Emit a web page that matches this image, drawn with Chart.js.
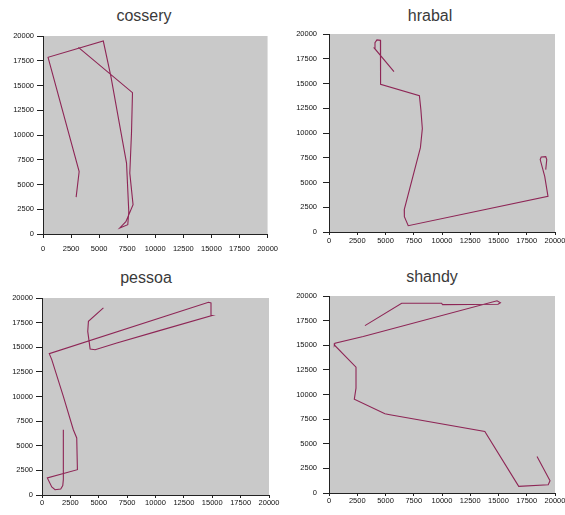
<!DOCTYPE html>
<html>
<head>
<meta charset="utf-8">
<script src="https://cdn.jsdelivr.net/npm/chart.js@4.4.1/dist/chart.umd.min.js"></script>
<style>
  html, body { margin: 0; padding: 0; background: #fff; overflow: hidden; }
  body { width: 565px; height: 515px; position: relative; font-family: "Liberation Sans", Arial, sans-serif; }
  canvas { position: absolute; }
  .title { position: absolute; width: 200px; text-align: center; font-size: 16px; line-height: 16px; color: #3a3a3a; }
</style>
</head>
<body>
<div class="title" id="t1" style="left:44px;top:8px"></div>
<div class="title" id="t2" style="left:330px;top:8px"></div>
<div class="title" id="t3" style="left:46px;top:270px"></div>
<div class="title" id="t4" style="left:332px;top:269px"></div>
<canvas id="c1"></canvas>
<canvas id="c2"></canvas>
<canvas id="c3"></canvas>
<canvas id="c4"></canvas>
<script>
// tick labels, same on both axes of every panel
var tickValues = [0, 2500, 5000, 7500, 10000, 12500, 15000, 17500, 20000];
var names = ['cossery', 'hrabal', 'pessoa', 'shandy'];

// paths (x, y)
var cosseryX = [3150, 7970, 7880, 7730, 8020, 7380, 6840, 7550, 7640, 7440, 6690, 6050, 5370, 450, 3220, 2950];
var cosseryY = [18850, 14280, 10180, 6150, 2960, 1240, 610, 940, 2250, 7160, 11860, 15890, 19490, 17850, 6310, 3730];

var hrabalX = [5750, 4000, 4070, 4240, 4550, 4580, 4550, 8000, 8130, 8260, 8090, 6660, 6670, 7010, 19380, 19090, 18690, 18780, 19180, 19270, 19180];
var hrabalY = [16190, 18590, 19120, 19400, 19360, 18920, 14910, 13770, 12360, 10440, 8520, 2260, 1550, 640, 3600, 5620, 7310, 7580, 7610, 7310, 6300];

var pessoaX = [5410, 4090, 4030, 4240, 4680, 6590, 10120, 14970, 14890, 14670, 640, 860, 1880, 2760, 3060, 3120, 470, 860, 1150, 1650, 1830, 1880, 1880];
var pessoaY = [18990, 17630, 16610, 14830, 14750, 15430, 16610, 18210, 19500, 19560, 14350, 13740, 10010, 6630, 5790, 2570, 1730, 820, 540, 610, 950, 1560, 6630];

var shandyX = [3180, 6430, 9960, 10050, 14960, 15170, 14870, 3030, 530, 470, 2390, 2390, 2240, 4950, 5390, 13790, 16790, 19400, 19560, 18410];
var shandyY = [16990, 19260, 19260, 19120, 19160, 19320, 19520, 15880, 15210, 15030, 12770, 10650, 9530, 8040, 7940, 6250, 670, 840, 1250, 3710];

var plotBg = {
  id: 'plotBg',
  beforeDraw: function(chart) {
    var a = chart.chartArea, ctx = chart.ctx;
    ctx.save();
    ctx.fillStyle = '#c9c9c9';
    ctx.fillRect(a.left, a.top, a.right - a.left, a.bottom - a.top);
    ctx.restore();
  }
};

function zip(xs, ys) {
  var pts = [];
  for (var i = 0; i < xs.length; i++) pts.push({x: xs[i], y: ys[i]});
  return pts;
}

function axis(pos, size, tickLen, pad) {
  return {
    type: 'linear',
    position: pos,
    min: 0,
    max: 20000,
    afterBuildTicks: function(scale) {
      scale.ticks = tickValues.map(function(v) { return {value: v}; });
    },
    afterFit: function(scale) {
      if (pos === 'left') scale.width = size; else scale.height = size;
    },
    border: {display: true, color: '#222', width: 1},
    grid: {drawOnChartArea: false, drawTicks: true, tickLength: tickLen, color: '#222'},
    ticks: {
      padding: pad,
      maxRotation: 0,
      autoSkip: false,
      color: '#111',
      font: {family: 'Liberation Sans', size: 7.5},
      callback: function(v) { return String(v); }
    }
  };
}

function panel(id, titleId, name, xs, ys, box) {
  document.getElementById(titleId).textContent = name;
  var cv = document.getElementById(id);
  cv.width = box.w; cv.height = box.h;
  cv.style.left = box.l + 'px'; cv.style.top = box.t + 'px';
  cv.style.width = box.w + 'px'; cv.style.height = box.h + 'px';
  new Chart(cv, {
    type: 'scatter',
    data: {
      datasets: [{
        data: zip(xs, ys),
        showLine: true,
        borderColor: '#8e2656',
        borderWidth: 1.1,
        pointRadius: 0,
        tension: 0
      }]
    },
    options: {
      responsive: false,
      animation: false,
      layout: {padding: {left: 0, top: box.padTop, right: box.padRight, bottom: 0}},
      plugins: {legend: {display: false}, tooltip: {enabled: false}},
      scales: {
        x: axis('bottom', box.xH, box.xTick, box.xPad),
        y: axis('left', box.yW, 6, box.yPad)
      }
    },
    plugins: [plotBg]
  });
}

panel('c1', 't1', names[0], cosseryX, cosseryY,
  {l: 0, t: 0, w: 284, h: 258, yW: 43, padTop: 36, padRight: 15, xH: 24, xTick: 4, xPad: 6, yPad: 3});
panel('c2', 't2', names[1], hrabalX, hrabalY,
  {l: 283, t: 0, w: 287, h: 258, yW: 46, padTop: 34, padRight: 15, xH: 26, xTick: 3, xPad: 1, yPad: 6});
panel('c3', 't3', names[2], pessoaX, pessoaY,
  {l: 0, t: 258, w: 284, h: 257, yW: 42, padTop: 40, padRight: 15, xH: 20, xTick: 3, xPad: 0, yPad: 3});
panel('c4', 't4', names[3], shandyX, shandyY,
  {l: 283, t: 258, w: 287, h: 257, yW: 46, padTop: 38, padRight: 15, xH: 22, xTick: 3, xPad: 0, yPad: 6});
</script>
</body>
</html>
